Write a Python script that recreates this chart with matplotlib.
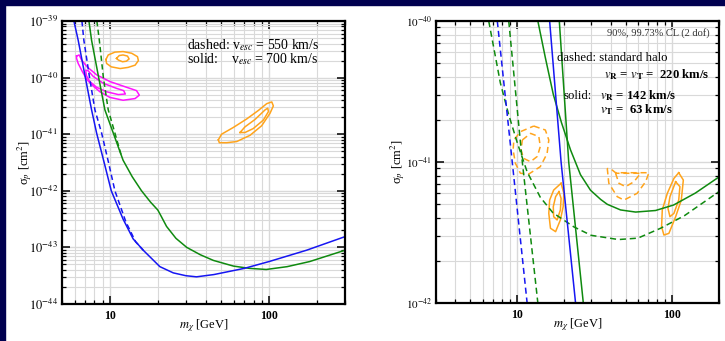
import numpy as np
import matplotlib
matplotlib.use("Agg")
import matplotlib.pyplot as plt
from matplotlib.patches import Rectangle
from matplotlib.ticker import FixedLocator, FixedFormatter, NullFormatter

plt.rcParams['font.family'] = ['Liberation Serif', 'DejaVu Serif']
plt.rcParams['mathtext.fontset'] = 'stix'

BLUE = '#1616f2'
GREEN = '#0f8a0f'
MAGENTA = '#ff14ff'
ORANGE = '#ffa41c'
NAVY = '#000050'
GRID = '#d9d9d9'

# ---------------- left panel: escape-velocity comparison ----------------
# masses in GeV, cross sections as log10(sigma / cm^2)
L_blue_solid_m = [5.94, 6.32, 7.01, 7.67, 8.25, 9.2, 10.2, 12.1, 14.0, 16.2, 20.6, 25, 30, 35,
                  45, 55, 70, 100, 172, 300]
L_blue_solid_s = [-39.0, -39.34, -40.0, -40.57, -40.98, -41.5, -42.0, -42.5, -42.85, -43.05,
                  -43.34, -43.45, -43.5, -43.52, -43.48, -43.43, -43.37, -43.25, -43.05, -42.81]

L_blue_dash_m = [6.67, 6.86, 7.45, 8.05, 8.87, 9.8, 10.75, 12.6, 14.5, 16.2]
L_blue_dash_s = [-39.0, -39.34, -40.0, -40.57, -40.98, -41.5, -42.0, -42.55, -42.9, -43.05]

L_green_solid_m = [7.38, 7.67, 8.5, 9.3, 10.5, 12.1, 13.8, 15.8, 18.0, 20.0, 21.0, 22.7, 26,
                   30.4, 37, 44.7, 59.7, 75, 96, 130, 180, 300]
L_green_solid_s = [-39.0, -39.34, -40.0, -40.57, -40.98, -41.46, -41.75, -42.0, -42.2, -42.34,
                   -42.45, -42.63, -42.84, -43.0, -43.13, -43.23, -43.33, -43.37, -43.39,
                   -43.34, -43.25, -43.05]

L_green_dash_m = [8.28, 8.58, 9.1, 9.76, 10.75, 11.8]
L_green_dash_s = [-39.0, -39.34, -40.0, -40.57, -40.98, -41.38]

# allowed regions (closed contours)
L_mag_outer_m = [6.17, 6.41, 6.64, 7.19, 8.24, 10.0, 12.7, 14.7, 15.3, 14.4, 12.1, 10.0, 8.65,
                 7.86, 7.19, 6.73, 6.32, 6.17]
L_mag_outer_s = [-39.62, -39.60, -39.69, -39.81, -39.95, -40.07, -40.17, -40.23, -40.31, -40.37,
                 -40.40, -40.35, -40.25, -40.15, -40.04, -39.90, -39.75, -39.66]
L_mag_inner_m = [7.06, 7.31, 7.86, 9.08, 11.0, 12.2, 12.5, 11.3, 9.53, 8.24, 7.48, 7.13, 7.06]
L_mag_inner_s = [-39.87, -39.88, -39.98, -40.10, -40.19, -40.23, -40.29, -40.30, -40.25, -40.17,
                 -40.07, -39.97, -39.90]

L_or1_outer_m = [9.44, 9.76, 10.75, 12.1, 13.7, 14.9, 15.1, 14.4, 13.0, 11.6, 10.2, 9.53]
L_or1_outer_s = [-39.68, -39.60, -39.55, -39.54, -39.57, -39.63, -39.70, -39.78, -39.82, -39.84,
                 -39.81, -39.75]
L_or1_inner_m = [11.0, 11.45, 12.1, 12.9, 13.2, 12.7, 12.0, 11.3]
L_or1_inner_s = [-39.66, -39.61, -39.60, -39.62, -39.67, -39.71, -39.72, -39.69]

L_or2_outer_m = [48.0, 50.3, 59.7, 72.4, 85.7, 96.7, 104, 106.4, 101.4, 89.9, 75.9, 62.6, 54.2,
                 48.7]
L_or2_outer_s = [-41.10, -41.0, -40.88, -40.73, -40.58, -40.46, -40.43, -40.50, -40.63, -40.85,
                 -41.02, -41.13, -41.15, -41.15]
L_or2_inner_m = [65.7, 70.6, 81.6, 94.4, 98.1, 99.1, 92.1, 79.6, 70.6]
L_or2_inner_s = [-40.97, -40.87, -40.74, -40.57, -40.54, -40.60, -40.75, -40.90, -40.97]

L_yticks = [1e-44, 1e-43, 1e-42, 1e-41, 1e-40, 1e-39]
L_yticklabels = ['$10^{-44}$', '$10^{-43}$', '$10^{-42}$', '$10^{-41}$', '$10^{-40}$', '$10^{-39}$']

# ---------------- right panel: anisotropic halo ----------------
R_blue_dash_m = [7.45, 9.3, 11.6]
R_blue_dash_s = [-40.0, -41.0, -42.0]
R_green_dash_steep_m = [8.83, 10.8, 13.6]
R_green_dash_steep_s = [-40.0, -41.0, -42.0]
R_green_dash_m = [6.56, 7.8, 8.8, 10.0, 11.6, 14.1, 17.0, 23.2, 30, 45, 60, 84, 120, 200]
R_green_dash_s = [-40.0, -40.44, -40.66, -40.86, -41.07, -41.25, -41.36, -41.46, -41.52, -41.55,
                  -41.54, -41.47, -41.38, -41.21]
R_blue_solid_m = [16.2, 19.2, 23.8]
R_blue_solid_s = [-40.0, -41.0, -42.0]
R_green_steep_m = [18.7, 21.5, 26.7]
R_green_steep_s = [-40.0, -41.0, -42.0]
R_green_solid_m = [13.6, 15.2, 17.1, 19.3, 22.1, 25.6, 29.7, 34.5, 38.1, 46.4, 58, 78, 102, 141,
                   200]
R_green_solid_s = [-40.0, -40.26, -40.52, -40.72, -40.915, -41.09, -41.2, -41.265, -41.3, -41.34,
                   -41.355, -41.344, -41.305, -41.22, -41.106]

R_dor1_outer_m = [12.8, 15.2, 16.0, 15.6, 14.1, 11.9, 10.5, 9.75, 9.42, 9.52, 10.5]
R_dor1_outer_s = [-40.745, -40.773, -40.844, -40.94, -41.033, -41.085, -41.08, -41.01, -40.915,
                  -40.844, -40.785]
R_dor1_inner_m = [10.8, 12.2, 13.8, 14.1, 13.5, 12.2, 11.0, 10.6]
R_dor1_inner_s = [-40.844, -40.797, -40.82, -40.89, -40.96, -40.998, -40.974, -40.915]

R_dor2_outer_m = [38.1, 39.0, 44.2, 48.8, 59.4, 67.3, 70.7, 43.1, 41.0]
R_dor2_outer_s = [-41.045, -41.151, -41.246, -41.27, -41.222, -41.14, -41.076, -41.076, -41.057]
R_dor2_inner_m = [43.1, 45.3, 50.0, 56.6, 62.5]
R_dor2_inner_s = [-41.08, -41.151, -41.175, -41.14, -41.08]

R_or1_outer_m = [19.2, 20.0, 19.8, 19.0, 17.7, 16.4, 16.0, 16.2, 17.2]
R_or1_outer_s = [-41.151, -41.222, -41.317, -41.411, -41.494, -41.47, -41.364, -41.27, -41.199]
R_or1_inner_m = [18.6, 19.2, 19.0, 18.1, 17.2, 17.1, 17.7]
R_or1_inner_s = [-41.21, -41.258, -41.34, -41.411, -41.388, -41.317, -41.246]

R_or2_outer_m = [110, 117.8, 114.3, 105.1, 95.1, 88.3, 85.3, 86.2, 92.9, 102.5]
R_or2_outer_s = [-41.076, -41.128, -41.27, -41.388, -41.506, -41.518, -41.459, -41.34, -41.222,
                 -41.116]
R_or2_inner_m = [105.1, 112.0, 110, 102.5, 96.6, 93.8, 96.6]
R_or2_inner_s = [-41.14, -41.175, -41.27, -41.364, -41.388, -41.329, -41.246]

R_yticks = [1e-42, 1e-41, 1e-40]
R_yticklabels = ['$10^{-42}$', '$10^{-41}$', '$10^{-40}$']

x_major = [10, 100]
x_major_labels = ['10', '100']


def sig(v):
    return np.power(10.0, np.asarray(v, dtype=float))


def closed(m, s):
    return np.append(m, m[0]), np.append(sig(s), sig(s)[0])


def style_axes(ax, xlim, ylim, yticks, ylabels, ylabsize, ylab_x):
    ax.set_xscale('log')
    ax.set_yscale('log')
    ax.set_xlim(*xlim)
    ax.set_ylim(*ylim)
    ax.xaxis.set_major_locator(FixedLocator(x_major))
    ax.xaxis.set_major_formatter(FixedFormatter(x_major_labels))
    xminor = [k * 10.0 ** e for e in range(0, 3) for k in range(2, 10)]
    ax.xaxis.set_minor_locator(FixedLocator(xminor))
    ax.xaxis.set_minor_formatter(NullFormatter())
    ax.yaxis.set_major_locator(FixedLocator(yticks))
    ax.yaxis.set_major_formatter(FixedFormatter(ylabels))
    e0 = int(round(np.log10(ylim[0])))
    e1 = int(round(np.log10(ylim[1])))
    yminor = [k * 10.0 ** e for e in range(e0, e1) for k in range(2, 10)]
    ax.yaxis.set_minor_locator(FixedLocator(yminor))
    ax.yaxis.set_minor_formatter(NullFormatter())
    ax.tick_params(which='both', direction='in', top=True, right=True, color='black')
    ax.tick_params(which='major', length=6, width=1.1)
    ax.tick_params(which='minor', length=3, width=0.9)
    ax.tick_params(axis='y', which='major', labelsize=ylabsize, pad=3)
    ax.tick_params(axis='x', which='major', labelsize=8.5, pad=4)
    for lab in ax.get_xticklabels():
        lab.set_fontweight('bold')
    for sp in ax.spines.values():
        sp.set_linewidth(1.6)
    ax.set_axisbelow(True)
    ax.grid(which='major', color=GRID, lw=1.0)
    ax.grid(which='minor', color=GRID, lw=0.8)
    ax.set_xlabel(r'$m_\chi$ [GeV]', fontsize=9)
    ax.set_ylabel('σ$_p$ [cm$^2$]', fontsize=9)
    ax.xaxis.set_label_coords(0.5, -0.047)
    ax.yaxis.set_label_coords(ylab_x, 0.5)


fig = plt.figure(figsize=(7.25, 3.41), dpi=100)
fig.patch.set_facecolor('white')
fig.add_artist(Rectangle((0, 0), 5 / 725, 1, transform=fig.transFigure, color=NAVY, zorder=10))
fig.add_artist(Rectangle((0, 1 - 5 / 341), 1, 5 / 341, transform=fig.transFigure, color=NAVY,
                         zorder=10))

axL = fig.add_axes([62 / 725, 37 / 341, 283 / 725, 283 / 341])
axR = fig.add_axes([436 / 725, 38 / 341, 283 / 725, 282 / 341])

# left panel
lw = 1.1
dash = (0, (3.5, 2.2))
axL.plot(L_mag_outer_m + [L_mag_outer_m[0]], sig(L_mag_outer_s + [L_mag_outer_s[0]]),
         color=MAGENTA, lw=lw)
axL.plot(L_mag_inner_m, sig(L_mag_inner_s), color=MAGENTA, lw=lw)
for m, s in [(L_or1_outer_m, L_or1_outer_s), (L_or1_inner_m, L_or1_inner_s),
             (L_or2_outer_m, L_or2_outer_s), (L_or2_inner_m, L_or2_inner_s)]:
    xm, ys = closed(m, s)
    axL.plot(xm, ys, color=ORANGE, lw=lw)
axL.plot(L_green_dash_m, sig(L_green_dash_s), color=GREEN, lw=lw, ls=dash)
axL.plot(L_blue_dash_m, sig(L_blue_dash_s), color=BLUE, lw=lw, ls=dash)
axL.plot(L_green_solid_m, sig(L_green_solid_s), color=GREEN, lw=lw)
axL.plot(L_blue_solid_m, sig(L_blue_solid_s), color=BLUE, lw=lw)
style_axes(axL, (5, 300), (1e-44, 1e-39), L_yticks, L_yticklabels, 9, -0.10)

# right panel
dash2 = (0, (4, 2.5))
for m, s in [(R_dor1_outer_m, R_dor1_outer_s), (R_dor1_inner_m, R_dor1_inner_s),
             (R_dor2_outer_m, R_dor2_outer_s), (R_dor2_inner_m, R_dor2_inner_s)]:
    xm, ys = closed(m, s)
    axR.plot(xm, ys, color=ORANGE, lw=lw, ls=dash2)
for m, s in [(R_or1_outer_m, R_or1_outer_s), (R_or1_inner_m, R_or1_inner_s),
             (R_or2_outer_m, R_or2_outer_s), (R_or2_inner_m, R_or2_inner_s)]:
    xm, ys = closed(m, s)
    axR.plot(xm, ys, color=ORANGE, lw=lw)
axR.plot(R_green_dash_m, sig(R_green_dash_s), color=GREEN, lw=lw, ls=dash2)
axR.plot(R_green_dash_steep_m, sig(R_green_dash_steep_s), color=GREEN, lw=lw, ls=dash2)
axR.plot(R_blue_dash_m, sig(R_blue_dash_s), color=BLUE, lw=lw, ls=dash2)
axR.plot(R_green_solid_m, sig(R_green_solid_s), color=GREEN, lw=lw)
axR.plot(R_green_steep_m, sig(R_green_steep_s), color=GREEN, lw=lw)
axR.plot(R_blue_solid_m, sig(R_blue_solid_s), color=BLUE, lw=lw)
style_axes(axR, (3, 200), (1e-42, 1e-40), R_yticks, R_yticklabels, 8, -0.104)


def ftext(x, y, s, **kw):
    fig.text(x / 725, 1 - y / 341, s, transform=fig.transFigure, **kw)


# annotations, left panel
ftext(187, 37.5, 'dashed: v$_{esc}$ = 550 km/s\nsolid:    v$_{esc}$ = 700 km/s', fontsize=9.9,
      va='top', linespacing=0.82)

# annotations, right panel
ftext(710, 33, '90%, 99.73% CL (2 dof)', fontsize=7.5, color='#333333', ha='right', va='center')
ftext(557, 58, 'dashed: standard halo', fontsize=9.2, va='center')
ftext(710, 75, r'$v_{\mathbf{R}}$ = $v_{\mathbf{T}}$ =  220 km/s', fontsize=9.2, fontweight='bold',
      ha='right', va='center')
ftext(564, 96, 'solid:', fontsize=9.2, va='center')
ftext(600.5, 96, r'$v_{\mathbf{R}}$ = 142 km/s', fontsize=9.2, fontweight='bold', va='center')
ftext(600.5, 110, r'$v_{\mathbf{T}}$ =  63 km/s', fontsize=9.2, fontweight='bold', va='center')

fig.savefig('out.png', dpi=100, facecolor='white')
